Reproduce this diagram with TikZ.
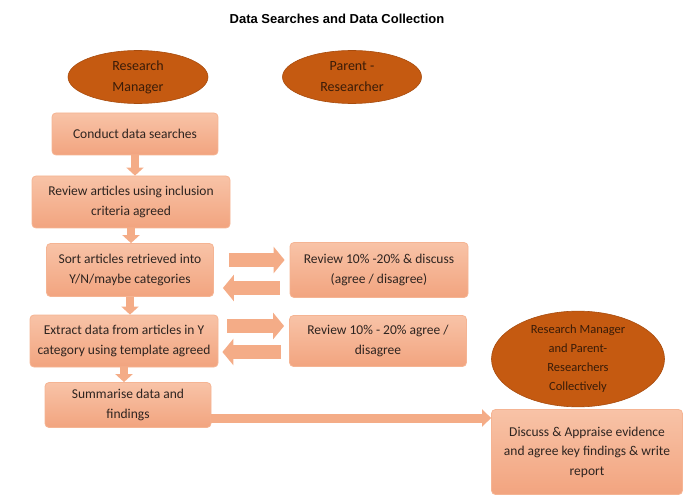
\documentclass[tikz,border=0pt]{standalone}
\usepackage{fontspec}
\setmainfont{Carlito}
\newfontfamily\titlefont{Liberation Sans}
\usetikzlibrary{shapes.geometric,arrows.meta}
\definecolor{boxtop}{HTML}{F8C3A7}
\definecolor{boxbottom}{HTML}{F2A47F}
\definecolor{boxline}{HTML}{F5B493}
\definecolor{ovalfill}{HTML}{C55A11}
\definecolor{ovaltext}{HTML}{3A1C08}
\definecolor{arrowfill}{HTML}{F4AC87}
\definecolor{inktext}{HTML}{2E2420}

\begin{document}
\begin{tikzpicture}[x=1pt,y=-1pt,
    stepbox/.style={draw=boxline, top color=boxtop, bottom color=boxbottom, rounded corners=4pt, line width=0.8pt,
        align=center, text=inktext, font=\fontsize{13.5}{19.5}\selectfont, inner sep=2pt},
    oval/.style={ellipse, draw=ovalfill!85!black, fill=ovalfill, line width=0.6pt,
        align=center, text=ovaltext, font=\fontsize{14}{21}\selectfont, inner sep=0pt},
    downarrow/.style={arrowfill, line width=8pt, -{Triangle[width=17pt,length=8pt]}},
    sidearrow/.style={arrowfill, line width=14pt, -{Triangle[width=26pt,length=11pt]}},
    longarrow/.style={arrowfill, line width=9pt, -{Triangle[width=17pt,length=9pt]}}]
    \useasboundingbox (0,0) rectangle (699,497);

    \node[font=\titlefont\bfseries\fontsize{13}{15}\selectfont] (title) at (337,19) {Data Searches and Data Collection};

    \node[oval, minimum width=140pt, minimum height=53pt] (manager) at (138,77) {Research\\Manager};
    \node[oval, minimum width=139pt, minimum height=53pt] (parent) at (352,77) {Parent -\\Researcher};
    \node[oval, minimum width=173pt, minimum height=78pt, font=\fontsize{12.5}{19}\selectfont] (together) at (578,359)
        {Research Manager\\and Parent-\\Researchers\\Collectively};

    \node[stepbox, minimum width=166pt, minimum height=42pt] (conduct) at (135,134) {Conduct data searches};
    \node[stepbox, minimum width=198pt, minimum height=52pt] (screen) at (131,202) {Review articles using inclusion\\criteria agreed};
    \node[stepbox, minimum width=167pt, minimum height=53pt] (sort) at (130,270) {Sort articles retrieved into\\Y/N/maybe categories};
    \node[stepbox, minimum width=178pt, minimum height=55pt] (check1) at (379,270) {Review 10\% -20\% \& discuss\\(agree / disagree)};
    \node[stepbox, minimum width=188pt, minimum height=52pt] (extract) at (124,341) {Extract data from articles in Y\\category using template agreed};
    \node[stepbox, minimum width=177pt, minimum height=51pt] (check2) at (378,341) {Review 10\% - 20\% agree /\\disagree};
    \node[stepbox, minimum width=166pt, minimum height=45pt] (summary) at (128,405) {Summarise data and\\findings};
    \node[stepbox, minimum width=191pt, minimum height=85pt] (discuss) at (587,452)
        {Discuss \& Appraise evidence\\and agree key findings \& write\\report};

    \draw[downarrow] (conduct.south) -- (conduct.south |- screen.north);
    \draw[downarrow] (screen.south) -- (screen.south |- sort.north);
    \draw[downarrow] (sort.south) -- (sort.south |- extract.north);
    \draw[downarrow] (extract.south) -- (extract.south |- summary.north);

    \draw[sidearrow, shorten <=15pt, shorten >=5pt] ([yshift=10pt]sort.east) -- ([yshift=10pt]sort.east -| check1.west);
    \draw[sidearrow, shorten <=10pt, shorten >=9pt] ([yshift=-18pt]check1.west) -- ([yshift=-18pt]check1.west -| sort.east);
    \draw[sidearrow, shorten <=9pt, shorten >=5pt] ([yshift=15pt]extract.east) -- ([yshift=15pt]extract.east -| check2.west);
    \draw[sidearrow, shorten <=8pt, shorten >=4pt] ([yshift=-11pt]check2.west) -- ([yshift=-11pt]check2.west -| extract.east);

    \draw[longarrow] ([yshift=-13pt]summary.east) -- ([yshift=-13pt]summary.east -| discuss.west);
\end{tikzpicture}
\end{document}
